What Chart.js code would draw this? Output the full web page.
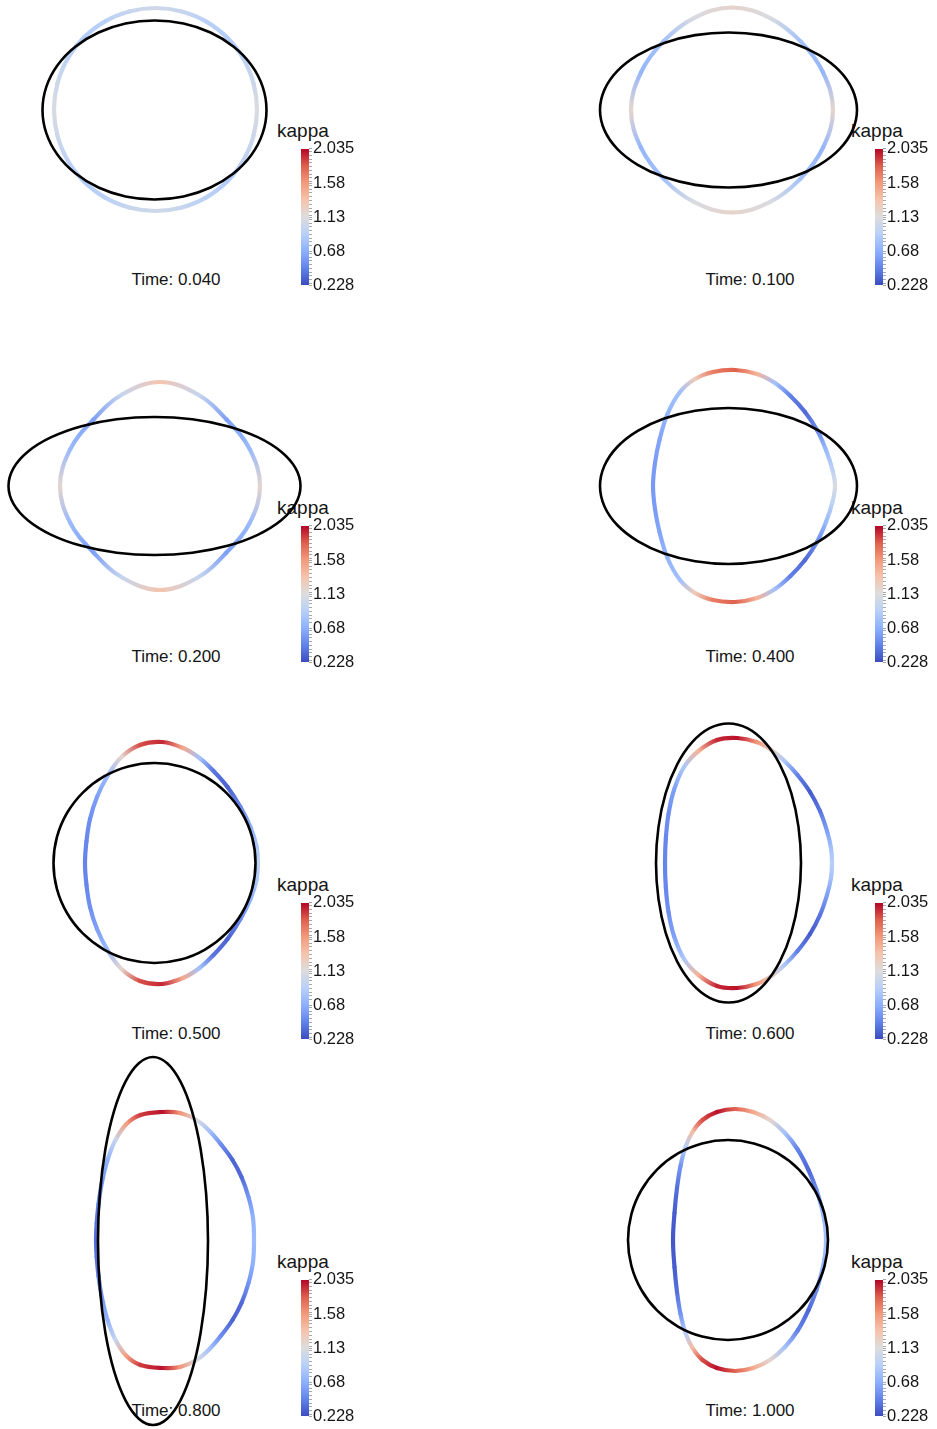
<!DOCTYPE html>
<html>
<head>
<meta charset="utf-8">
<script src="https://cdn.jsdelivr.net/npm/chart.js@4.4.1/dist/chart.umd.min.js"></script>
<style>
  html, body { margin: 0; padding: 0; background: #fff; }
  #page { position: relative; width: 937px; height: 1429px; overflow: hidden; }
  #page canvas { position: absolute; }
  .lbl { position: absolute; font-family: "Liberation Sans", Arial, sans-serif; color: #151515; white-space: nowrap; line-height: 20px; }
</style>
</head>
<body>
<div id="page"></div>
<script>
// ---- data (model units, y up, relative to each panel centre) ----
var times = ['0.040', '0.100', '0.200', '0.400', '0.500', '0.600', '0.800', '1.000'];

var kappaTicks = [0.228, 0.68, 1.13, 1.58, 2.035];
var kappaTickLabels = ['0.228', '0.68', '1.13', '1.58', '2.035'];

// black reference ellipses
var ellipseX = [
  [1.12, 1.082, 0.97, 0.792, 0.56, 0.29, 0, -0.29, -0.56, -0.792, -0.97, -1.082, -1.12, -1.082, -0.97, -0.792, -0.56, -0.29, 0, 0.29, 0.56, 0.792, 0.97, 1.082],
  [1.285, 1.241, 1.113, 0.908, 0.643, 0.333, 0, -0.333, -0.643, -0.908, -1.113, -1.241, -1.285, -1.241, -1.113, -0.908, -0.643, -0.333, 0, 0.333, 0.643, 0.908, 1.113, 1.241],
  [1.46, 1.41, 1.264, 1.032, 0.73, 0.378, 0, -0.378, -0.73, -1.032, -1.264, -1.41, -1.46, -1.41, -1.264, -1.032, -0.73, -0.378, 0, 0.378, 0.73, 1.032, 1.264, 1.41],
  [1.285, 1.241, 1.113, 0.908, 0.643, 0.333, 0, -0.333, -0.643, -0.908, -1.113, -1.241, -1.285, -1.241, -1.113, -0.908, -0.643, -0.333, 0, 0.333, 0.643, 0.908, 1.113, 1.241],
  [1.01, 0.976, 0.875, 0.714, 0.505, 0.262, 0, -0.262, -0.505, -0.714, -0.875, -0.976, -1.01, -0.976, -0.875, -0.714, -0.505, -0.262, 0, 0.262, 0.505, 0.714, 0.875, 0.976],
  [0.725, 0.7, 0.628, 0.513, 0.363, 0.188, 0, -0.188, -0.363, -0.513, -0.628, -0.7, -0.725, -0.7, -0.628, -0.513, -0.363, -0.188, 0, 0.188, 0.363, 0.513, 0.628, 0.7],
  [0.535, 0.516, 0.461, 0.374, 0.26, 0.127, -0.015, -0.157, -0.29, -0.404, -0.491, -0.546, -0.565, -0.546, -0.491, -0.404, -0.29, -0.157, -0.015, 0.127, 0.26, 0.374, 0.461, 0.516],
  [0.995, 0.961, 0.861, 0.702, 0.495, 0.254, -0.005, -0.264, -0.505, -0.712, -0.871, -0.971, -1.005, -0.971, -0.871, -0.712, -0.505, -0.264, -0.005, 0.254, 0.495, 0.702, 0.861, 0.961]
];
var ellipseY = [
  [0, 0.232, 0.448, 0.633, 0.775, 0.865, 0.895, 0.865, 0.775, 0.633, 0.448, 0.232, 0, -0.232, -0.448, -0.633, -0.775, -0.865, -0.895, -0.865, -0.775, -0.633, -0.448, -0.232],
  [0, 0.201, 0.388, 0.548, 0.671, 0.749, 0.775, 0.749, 0.671, 0.548, 0.388, 0.201, 0, -0.201, -0.388, -0.548, -0.671, -0.749, -0.775, -0.749, -0.671, -0.548, -0.388, -0.201],
  [0, 0.179, 0.345, 0.488, 0.598, 0.667, 0.69, 0.667, 0.598, 0.488, 0.345, 0.179, 0, -0.179, -0.345, -0.488, -0.598, -0.667, -0.69, -0.667, -0.598, -0.488, -0.345, -0.179],
  [0, 0.202, 0.39, 0.551, 0.675, 0.753, 0.78, 0.753, 0.675, 0.551, 0.39, 0.202, 0, -0.202, -0.39, -0.551, -0.675, -0.753, -0.78, -0.753, -0.675, -0.551, -0.39, -0.202],
  [0, 0.259, 0.5, 0.707, 0.866, 0.966, 1, 0.966, 0.866, 0.707, 0.5, 0.259, 0, -0.259, -0.5, -0.707, -0.866, -0.966, -1, -0.966, -0.866, -0.707, -0.5, -0.259],
  [0, 0.361, 0.698, 0.986, 1.208, 1.348, 1.395, 1.348, 1.208, 0.986, 0.698, 0.361, 0, -0.361, -0.698, -0.986, -1.208, -1.348, -1.395, -1.348, -1.208, -0.986, -0.698, -0.361],
  [-0.01, 0.467, 0.91, 1.291, 1.583, 1.767, 1.83, 1.767, 1.583, 1.291, 0.91, 0.467, -0.01, -0.487, -0.93, -1.311, -1.603, -1.787, -1.85, -1.787, -1.603, -1.311, -0.93, -0.487],
  [0, 0.259, 0.5, 0.707, 0.866, 0.966, 1, 0.966, 0.866, 0.707, 0.5, 0.259, 0, -0.259, -0.5, -0.707, -0.866, -0.966, -1, -0.966, -0.866, -0.707, -0.5, -0.259]
];

// coloured interface curves and their curvature
var curveX = [
  [1.025, 0.99, 0.889, 0.728, 0.518, 0.273, 0.01, -0.253, -0.498, -0.708, -0.869, -0.97, -1.005, -0.97, -0.869, -0.708, -0.498, -0.253, 0.01, 0.273, 0.518, 0.728, 0.889, 0.99],
  [1.045, 0.945, 0.721, 0.416, 0.035, -0.346, -0.651, -0.875, -0.975, -0.875, -0.651, -0.346, 0.035, 0.416, 0.721, 0.945],
  [1.055, 0.951, 0.72, 0.434, 0.055, -0.324, -0.61, -0.841, -0.945, -0.841, -0.61, -0.324, 0.055, 0.434, 0.72, 0.951],
  [1.065, 1.04, 0.975, 0.885, 0.765, 0.62, 0.465, 0.285, 0.065, -0.155, -0.335, -0.485, -0.61, -0.69, -0.735, -0.755, -0.735, -0.69, -0.61, -0.485, -0.335, -0.155, 0.065, 0.285, 0.465, 0.62, 0.765, 0.885, 0.975, 1.04],
  [1.035, 1.02, 0.96, 0.86, 0.73, 0.59, 0.45, 0.285, 0.075, -0.145, -0.33, -0.47, -0.575, -0.645, -0.68, -0.695, -0.68, -0.645, -0.575, -0.47, -0.33, -0.145, 0.075, 0.285, 0.45, 0.59, 0.73, 0.86, 0.96, 1.02],
  [1.035, 1.025, 0.985, 0.915, 0.815, 0.69, 0.56, 0.43, 0.28, 0.085, -0.115, -0.3, -0.445, -0.545, -0.6, -0.627, -0.635, -0.627, -0.6, -0.545, -0.445, -0.3, -0.115, 0.085, 0.28, 0.43, 0.56, 0.69, 0.815, 0.915, 0.985, 1.025],
  [0.995, 0.985, 0.94, 0.87, 0.78, 0.67, 0.55, 0.42, 0.255, 0.075, -0.14, -0.28, -0.39, -0.47, -0.525, -0.56, -0.578, -0.585, -0.578, -0.56, -0.525, -0.47, -0.39, -0.28, -0.14, 0.075, 0.255, 0.42, 0.55, 0.67, 0.78, 0.87, 0.94, 0.985],
  [0.975, 0.965, 0.935, 0.88, 0.8, 0.695, 0.565, 0.415, 0.245, 0.065, -0.115, -0.26, -0.36, -0.43, -0.48, -0.515, -0.54, -0.555, -0.54, -0.515, -0.48, -0.43, -0.36, -0.26, -0.115, 0.065, 0.245, 0.415, 0.565, 0.695, 0.8, 0.88, 0.935, 0.965]
];
var curveY = [
  [0.005, 0.268, 0.513, 0.723, 0.884, 0.985, 1.02, 0.985, 0.884, 0.723, 0.513, 0.268, 0.005, -0.258, -0.503, -0.713, -0.874, -0.975, -1.01, -0.975, -0.874, -0.713, -0.503, -0.258],
  [0, 0.377, 0.686, 0.919, 1.025, 0.919, 0.686, 0.377, 0, -0.377, -0.686, -0.919, -1.025, -0.919, -0.686, -0.377],
  [0, 0.371, 0.665, 0.915, 1.04, 0.915, 0.665, 0.371, 0, -0.371, -0.665, -0.915, -1.04, -0.915, -0.665, -0.371],
  [0, 0.16, 0.36, 0.56, 0.74, 0.9, 1.03, 1.12, 1.16, 1.14, 1.07, 0.94, 0.72, 0.46, 0.23, 0, -0.23, -0.46, -0.72, -0.94, -1.07, -1.14, -1.16, -1.12, -1.03, -0.9, -0.74, -0.56, -0.36, -0.16],
  [0, 0.17, 0.36, 0.56, 0.76, 0.92, 1.05, 1.15, 1.21, 1.18, 1.06, 0.87, 0.66, 0.44, 0.22, 0, -0.22, -0.44, -0.66, -0.87, -1.06, -1.18, -1.21, -1.15, -1.05, -0.92, -0.76, -0.56, -0.36, -0.17],
  [0, 0.15, 0.32, 0.52, 0.71, 0.88, 1.02, 1.13, 1.21, 1.25, 1.23, 1.12, 0.96, 0.73, 0.49, 0.24, 0, -0.24, -0.49, -0.73, -0.96, -1.12, -1.23, -1.25, -1.21, -1.13, -1.02, -0.88, -0.71, -0.52, -0.32, -0.15],
  [0, 0.22, 0.43, 0.63, 0.8, 0.95, 1.09, 1.2, 1.27, 1.28, 1.25, 1.16, 1.0, 0.8, 0.58, 0.36, 0.17, 0, -0.17, -0.36, -0.58, -0.8, -1.0, -1.16, -1.25, -1.28, -1.27, -1.2, -1.09, -0.95, -0.8, -0.63, -0.43, -0.22],
  [0, 0.15, 0.31, 0.5, 0.7, 0.9, 1.07, 1.2, 1.28, 1.31, 1.28, 1.2, 1.08, 0.93, 0.74, 0.52, 0.27, 0, -0.27, -0.52, -0.74, -0.93, -1.08, -1.2, -1.28, -1.31, -1.28, -1.2, -1.07, -0.9, -0.7, -0.5, -0.31, -0.15]
];
var curveKappa = [
  [1.1, 1.03, 0.94, 0.88, 0.92, 1.0, 1.04, 1.0, 0.92, 0.88, 0.94, 1.03, 1.1, 1.03, 0.94, 0.88, 0.92, 1.0, 1.04, 1.0, 0.92, 0.88, 0.94, 1.03],
  [1.2, 0.72, 0.8, 1.1, 1.22, 1.1, 0.8, 0.72, 1.2, 0.72, 0.8, 1.1, 1.22, 1.1, 0.8, 0.72],
  [1.2, 0.75, 0.6, 1.0, 1.35, 1.0, 0.6, 0.75, 1.2, 0.75, 0.6, 1.0, 1.35, 1.0, 0.6, 0.75],
  [1.1, 0.95, 0.75, 0.5, 0.35, 0.45, 0.8, 1.45, 1.8, 1.7, 1.3, 0.8, 0.72, 0.62, 0.58, 0.57, 0.58, 0.62, 0.72, 0.8, 1.3, 1.7, 1.8, 1.45, 0.8, 0.45, 0.35, 0.5, 0.75, 0.95],
  [0.95, 0.85, 0.7, 0.5, 0.32, 0.4, 0.8, 1.5, 1.95, 1.85, 1.2, 0.75, 0.6, 0.52, 0.48, 0.47, 0.48, 0.52, 0.6, 0.75, 1.2, 1.85, 1.95, 1.5, 0.8, 0.4, 0.32, 0.5, 0.7, 0.85],
  [0.9, 0.8, 0.6, 0.4, 0.3, 0.45, 0.85, 1.25, 1.6, 2.0, 1.95, 1.45, 0.85, 0.6, 0.52, 0.48, 0.47, 0.48, 0.52, 0.6, 0.85, 1.45, 1.95, 2.0, 1.6, 1.25, 0.85, 0.45, 0.3, 0.4, 0.6, 0.8],
  [0.75, 0.7, 0.55, 0.35, 0.33, 0.5, 0.8, 1.1, 1.6, 2.0, 1.9, 1.55, 1.0, 0.7, 0.55, 0.45, 0.38, 0.36, 0.38, 0.45, 0.55, 0.7, 1.0, 1.55, 1.9, 2.0, 1.6, 1.1, 0.8, 0.5, 0.33, 0.35, 0.55, 0.7],
  [0.8, 0.78, 0.7, 0.5, 0.35, 0.45, 0.8, 1.2, 1.5, 1.8, 2.0, 1.85, 1.4, 0.9, 0.55, 0.38, 0.3, 0.28, 0.3, 0.38, 0.55, 0.9, 1.4, 1.85, 2.0, 1.8, 1.5, 1.2, 0.8, 0.45, 0.35, 0.5, 0.7, 0.78]
];

// ---- layout ----
var W = 937, H = 1429, UNIT = 100;
var panelCX = [154.5, 728.5];
var panelCY = [110, 486, 863, 1240];
var colShift = 574, rowShift = 377;
var fontFamily = '"Liberation Sans", Arial, sans-serif';

// ParaView "cool to warm"
var coolwarm = [[59, 76, 192], [98, 130, 234], [141, 176, 254], [184, 208, 249], [221, 221, 221],
                [245, 196, 173], [244, 154, 123], [222, 96, 77], [180, 4, 38]];
var kMin = kappaTicks[0], kMax = kappaTicks[kappaTicks.length - 1];

function kappaColor(k) {
    var t = Math.max(0, Math.min(1, (k - kMin) / (kMax - kMin))) * (coolwarm.length - 1);
    var i = Math.min(Math.floor(t), coolwarm.length - 2);
    var f = t - i;
    var a = coolwarm[i], b = coolwarm[i + 1];
    return 'rgb(' + Math.round(a[0] + (b[0] - a[0]) * f) + ',' +
        Math.round(a[1] + (b[1] - a[1]) * f) + ',' + Math.round(a[2] + (b[2] - a[2]) * f) + ')';
}

// closed curve: repeat neighbours on both ends so the spline is smooth where it closes,
// the two extra end segments are drawn transparent
function wrapLoop(arr) {
    var n = arr.length;
    return [arr[n - 1]].concat(arr, [arr[0], arr[1]]);
}
function isPadding(ctx) {
    return ctx.p0DataIndex === 0 || ctx.p1DataIndex >= ctx.chart.data.datasets[ctx.datasetIndex].data.length - 1;
}

var page = document.getElementById('page');

function makeCanvas(x, y, w, h) {
    var c = document.createElement('canvas');
    c.width = w;
    c.height = h;
    c.style.left = x + 'px';
    c.style.top = y + 'px';
    c.style.width = w + 'px';
    c.style.height = h + 'px';
    page.appendChild(c);
    return c;
}

function addText(text, x, y, w, size, align) {
    var d = document.createElement('div');
    d.className = 'lbl';
    d.textContent = text;
    d.style.left = x + 'px';
    d.style.top = y + 'px';
    d.style.width = w + 'px';
    d.style.fontSize = size + 'px';
    d.style.textAlign = align;
    page.appendChild(d);
}

// colorbar tick marks: labelled ticks plus small unlabelled ones
var colorbarTicks = kappaTicks.slice();
for (var v = 0.25; v < 2.02; v += 0.05) {
    var vv = +v.toFixed(2);
    if (kappaTicks.every(function (m) { return Math.abs(m - vv) > 0.02; })) colorbarTicks.push(vv);
}
colorbarTicks.sort(function (a, b) { return a - b; });

function barGradient(context) {
    var chart = context.chart;
    var area = chart.chartArea;
    if (!area) return null;
    var g = chart.ctx.createLinearGradient(0, area.bottom, 0, area.top);
    coolwarm.forEach(function (c, i) {
        g.addColorStop(i / (coolwarm.length - 1), 'rgb(' + c.join(',') + ')');
    });
    return g;
}

function addColorbar(x, y) {
    var cv = makeCanvas(x, y, 74, 158);
    new Chart(cv, {
        type: 'bar',
        data: {
            labels: ['kappa'],
            datasets: [{
                data: [[kMin, kMax]],
                backgroundColor: barGradient,
                borderWidth: 0,
                barPercentage: 1,
                categoryPercentage: 1
            }]
        },
        options: {
            responsive: false,
            animation: false,
            events: [],
            devicePixelRatio: 1,
            layout: { padding: { top: 10, bottom: 10, left: 0, right: 0 } },
            plugins: { legend: { display: false }, tooltip: { enabled: false } },
            scales: {
                x: { display: false },
                y: {
                    position: 'right',
                    min: kMin,
                    max: kMax,
                    bounds: 'data',
                    afterBuildTicks: function (s) {
                        s.ticks = colorbarTicks.map(function (t) { return { value: t }; });
                    },
                    afterFit: function (s) { s.width = 66; },
                    border: { display: false },
                    grid: { drawOnChartArea: false, tickLength: 3, tickWidth: 1, tickColor: '#a8a8a8' },
                    ticks: {
                        autoSkip: false,
                        padding: 1,
                        color: '#151515',
                        font: { family: fontFamily, size: 16.5 },
                        callback: function (value) {
                            var j = kappaTicks.indexOf(value);
                            return j >= 0 ? kappaTickLabels[j] : '';
                        }
                    }
                }
            }
        }
    });
}

// texts and colorbars per panel
times.forEach(function (t, i) {
    var col = i % 2, row = Math.floor(i / 2);
    addText('kappa', 277 + col * colShift, 121 + row * rowShift, 70, 19, 'left');
    addText('Time: ' + t, 76 + col * colShift, 270 + row * rowShift, 200, 17, 'center');
    addColorbar(301 + col * colShift, 138 + row * rowShift);
});

// curves: one full-page chart, one pair of scales per panel
var scales = {};
var datasets = [];
times.forEach(function (t, i) {
    var cx = panelCX[i % 2], cy = panelCY[Math.floor(i / 2)];
    scales['x' + i] = { type: 'linear', display: false, bounds: 'data', min: -cx / UNIT, max: (W - cx) / UNIT };
    scales['y' + i] = { type: 'linear', display: false, bounds: 'data', min: -(H - cy) / UNIT, max: cy / UNIT };

    var k = wrapLoop(curveKappa[i]);
    var pts = wrapLoop(curveX[i].map(function (x, j) { return { x: x, y: curveY[i][j] }; }));
    datasets.push({
        label: 'kappa ' + t,
        data: pts,
        xAxisID: 'x' + i,
        yAxisID: 'y' + i,
        showLine: true,
        pointRadius: 0,
        tension: 0.38,
        borderWidth: 4.2,
        borderCapStyle: 'round',
        borderJoinStyle: 'round',
        borderColor: '#ccc',
        order: 1,
        segment: {
            borderColor: function (ctx) {
                if (isPadding(ctx)) return 'rgba(0,0,0,0)';
                var g = ctx.chart.ctx.createLinearGradient(ctx.p0.x, ctx.p0.y, ctx.p1.x, ctx.p1.y);
                g.addColorStop(0, kappaColor(k[ctx.p0DataIndex]));
                g.addColorStop(1, kappaColor(k[ctx.p1DataIndex]));
                return g;
            },
            borderDashOffset: function (ctx) { return ctx.p0DataIndex; }
        }
    });

    var ep = wrapLoop(ellipseX[i].map(function (x, j) { return { x: x, y: ellipseY[i][j] }; }));
    datasets.push({
        label: 'ellipse ' + t,
        data: ep,
        xAxisID: 'x' + i,
        yAxisID: 'y' + i,
        showLine: true,
        pointRadius: 0,
        tension: 0.35,
        borderWidth: 2.6,
        borderColor: '#000',
        borderCapStyle: 'round',
        order: 0,
        segment: {
            borderColor: function (ctx) { return isPadding(ctx) ? 'rgba(0,0,0,0)' : '#000'; }
        }
    });
});

var curveCanvas = makeCanvas(0, 0, W, H);
new Chart(curveCanvas, {
    type: 'scatter',
    data: { datasets: datasets },
    options: {
        responsive: false,
        animation: false,
        events: [],
        devicePixelRatio: 1,
        layout: { padding: 0 },
        plugins: { legend: { display: false }, tooltip: { enabled: false } },
        scales: scales
    }
});
</script>
</body>
</html>
